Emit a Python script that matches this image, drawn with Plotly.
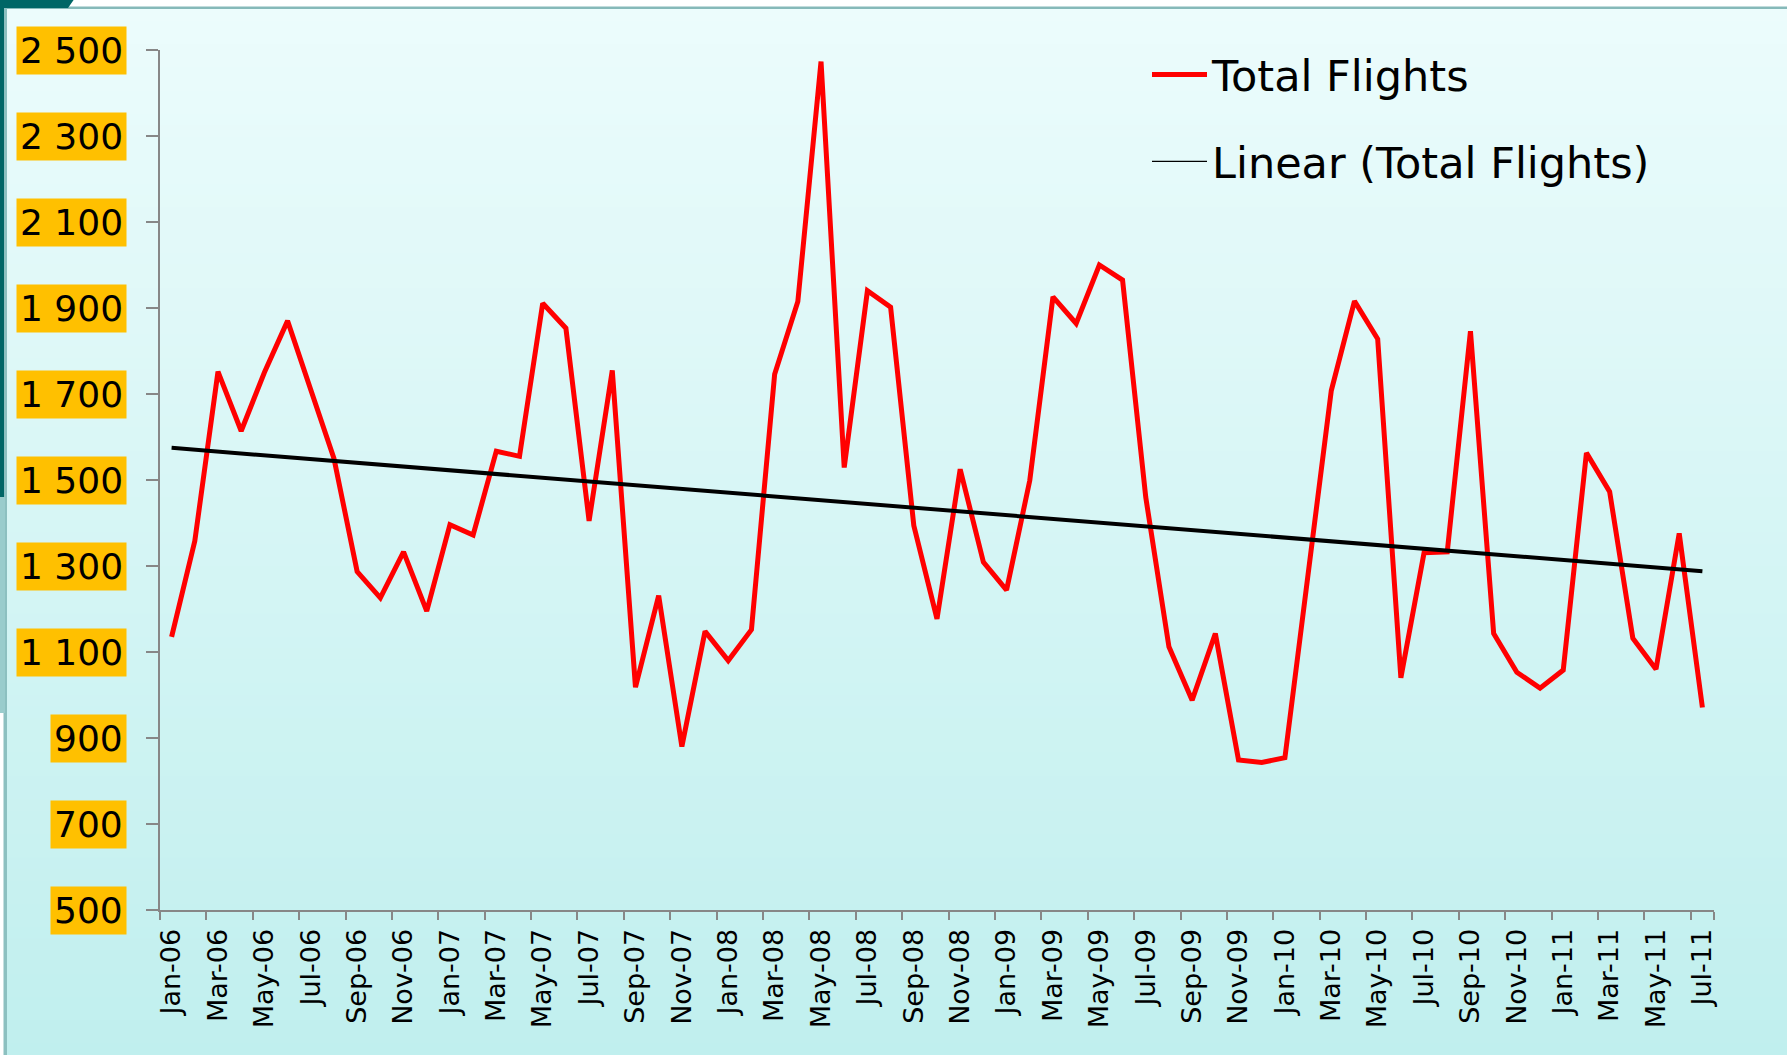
import numpy as np
import plotly.graph_objects as go

# ---------------- data ----------------
months = [
    "Jan-06", "Feb-06", "Mar-06", "Apr-06", "May-06", "Jun-06", "Jul-06", "Aug-06", "Sep-06", "Oct-06", "Nov-06", "Dec-06",
    "Jan-07", "Feb-07", "Mar-07", "Apr-07", "May-07", "Jun-07", "Jul-07", "Aug-07", "Sep-07", "Oct-07", "Nov-07", "Dec-07",
    "Jan-08", "Feb-08", "Mar-08", "Apr-08", "May-08", "Jun-08", "Jul-08", "Aug-08", "Sep-08", "Oct-08", "Nov-08", "Dec-08",
    "Jan-09", "Feb-09", "Mar-09", "Apr-09", "May-09", "Jun-09", "Jul-09", "Aug-09", "Sep-09", "Oct-09", "Nov-09", "Dec-09",
    "Jan-10", "Feb-10", "Mar-10", "Apr-10", "May-10", "Jun-10", "Jul-10", "Aug-10", "Sep-10", "Oct-10", "Nov-10", "Dec-10",
    "Jan-11", "Feb-11", "Mar-11", "Apr-11", "May-11", "Jun-11", "Jul-11",
]
total_flights = [
    1135, 1358, 1752, 1614, 1750, 1870, 1710, 1550, 1287, 1226, 1333, 1195,
    1396, 1372, 1567, 1555, 1911, 1853, 1405, 1755, 1018, 1231, 880, 1148,
    1080, 1152, 1746, 1915, 2473, 1529, 1940, 1902, 1394, 1177, 1525, 1309,
    1244, 1499, 1926, 1864, 2000, 1965, 1460, 1112, 988, 1143, 849, 843,
    854, 1290, 1708, 1916, 1828, 1040, 1331, 1333, 1846, 1143, 1053, 1016,
    1058, 1563, 1473, 1132, 1060, 1376, 971,
]
y_ticks = [500, 700, 900, 1100, 1300, 1500, 1700, 1900, 2100, 2300, 2500]
series_name = "Total Flights"
trend_name = "Linear (Total Flights)"

# linear trend (least squares, like the spreadsheet trendline)
idx = np.arange(len(total_flights))
slope, intercept = np.polyfit(idx, np.array(total_flights, dtype=float), 1)
trend = (slope * idx + intercept).tolist()

# ---------------- geometry ----------------
W_PX, H_PX = 1787, 1055
L, R, T, B = 160, 73, 50, 145
PW, PH = W_PX - L - R, H_PX - T - B


def px_x(px):
    return (px - L) / PW


def px_y(py):
    return (H_PX - B - py) / PH


FONT = "DejaVu Sans, Verdana, sans-serif"

fig = go.Figure()

fig.add_trace(go.Scatter(
    x=months, y=total_flights, mode="lines", name=series_name,
    line=dict(color="#FF0000", width=5), legendgroup="a",
))
fig.add_trace(go.Scatter(
    x=months, y=trend, mode="lines", name=trend_name,
    line=dict(color="#000000", width=4), showlegend=False,
))
# legend sample for the trendline (thin, like the original legend)
fig.add_trace(go.Scatter(
    x=[months[0]], y=[None], mode="lines", name=trend_name,
    line=dict(color="#000000", width=1.3), legendgroup="b",
))

shapes = []
# gradient background
top_c = np.array([236, 252, 252])
bot_c = np.array([192, 239, 238])
n = 90
y_start, y_end = 9, H_PX
for k in range(n):
    p0 = y_start + (y_end - y_start) * k / n
    p1 = y_start + (y_end - y_start) * (k + 1) / n + 1
    t = (k + 0.5) / n
    c = (top_c * (1 - t) + bot_c * t).round().astype(int)
    shapes.append(dict(
        type="rect", xref="paper", yref="paper", layer="below",
        x0=px_x(6), x1=px_x(W_PX + 2), y0=px_y(p1), y1=px_y(p0),
        fillcolor=f"rgb({c[0]},{c[1]},{c[2]})", line=dict(width=0),
    ))
# frame decorations
shapes.append(dict(type="rect", xref="paper", yref="paper", layer="below",
                   x0=px_x(-2), x1=px_x(W_PX + 2), y0=px_y(9), y1=px_y(6.5),
                   fillcolor="#86B9B9", line=dict(width=0)))
shapes.append(dict(type="rect", xref="paper", yref="paper", layer="below",
                   x0=px_x(3.5), x1=px_x(7), y0=px_y(H_PX + 2), y1=px_y(7),
                   fillcolor="#8CC0C0", line=dict(width=0)))
shapes.append(dict(type="path", xref="paper", yref="paper", layer="below",
                   path=(f"M {px_x(-2)},{px_y(-2)} L {px_x(75)},{px_y(-2)} "
                         f"L {px_x(68)},{px_y(8)} L {px_x(4)},{px_y(8)} "
                         f"L {px_x(4)},{px_y(497)} L {px_x(-2)},{px_y(500)} Z"),
                   fillcolor="#006666", line=dict(width=0)))
shapes.append(dict(type="rect", xref="paper", yref="paper", layer="below",
                   x0=px_x(-2), x1=px_x(5), y0=px_y(713), y1=px_y(497),
                   fillcolor="#99CCCC", line=dict(width=0)))

# y tick labels with highlighted boxes
annotations = []
for v in y_ticks:
    annotations.append(dict(
        xref="paper", yref="y", x=px_x(127), y=v, xanchor="right", yanchor="middle",
        text=f"{v:,}".replace(",", " "), showarrow=False,
        font=dict(family=FONT, size=36, color="#000000"),
        bgcolor="#FFC000", borderpad=3,
    ))

fig.update_layout(
    width=W_PX, height=H_PX,
    margin=dict(l=L, r=R, t=T, b=B, pad=0),
    paper_bgcolor="#FFFFFF", plot_bgcolor="rgba(0,0,0,0)",
    shapes=shapes, annotations=annotations,
    showlegend=True,
    legend=dict(
        x=px_x(1147), y=px_y(40), xanchor="left", yanchor="top",
        bgcolor="rgba(0,0,0,0)", borderwidth=0,
        font=dict(family=FONT, size=43, color="#000000"),
        tracegroupgap=28, itemwidth=55,
    ),
    xaxis=dict(
        type="category", categoryorder="array", categoryarray=months,
        range=[-0.5, len(months) - 0.5],
        tickmode="array", tickvals=months[::2], ticktext=months[::2],
        tickson="boundaries", ticks="outside", ticklen=8, tickwidth=2, tickcolor="#878787",
        tickangle=-90, tickfont=dict(family=FONT, size=27, color="#000000"),
        showline=True, linecolor="#878787", linewidth=2,
        showgrid=False, zeroline=False, ticklabelstandoff=6,
    ),
    yaxis=dict(
        range=[500, 2500], tickmode="array", tickvals=y_ticks,
        ticks="outside", ticklen=12, tickwidth=2, tickcolor="#878787",
        showticklabels=False,
        showline=True, linecolor="#878787", linewidth=2,
        showgrid=False, zeroline=False,
    ),
)

fig.write_html(
    "out.html",
    config={"displayModeBar": False},
    post_script="document.body.style.margin='0';document.body.style.overflow='hidden';",
)
